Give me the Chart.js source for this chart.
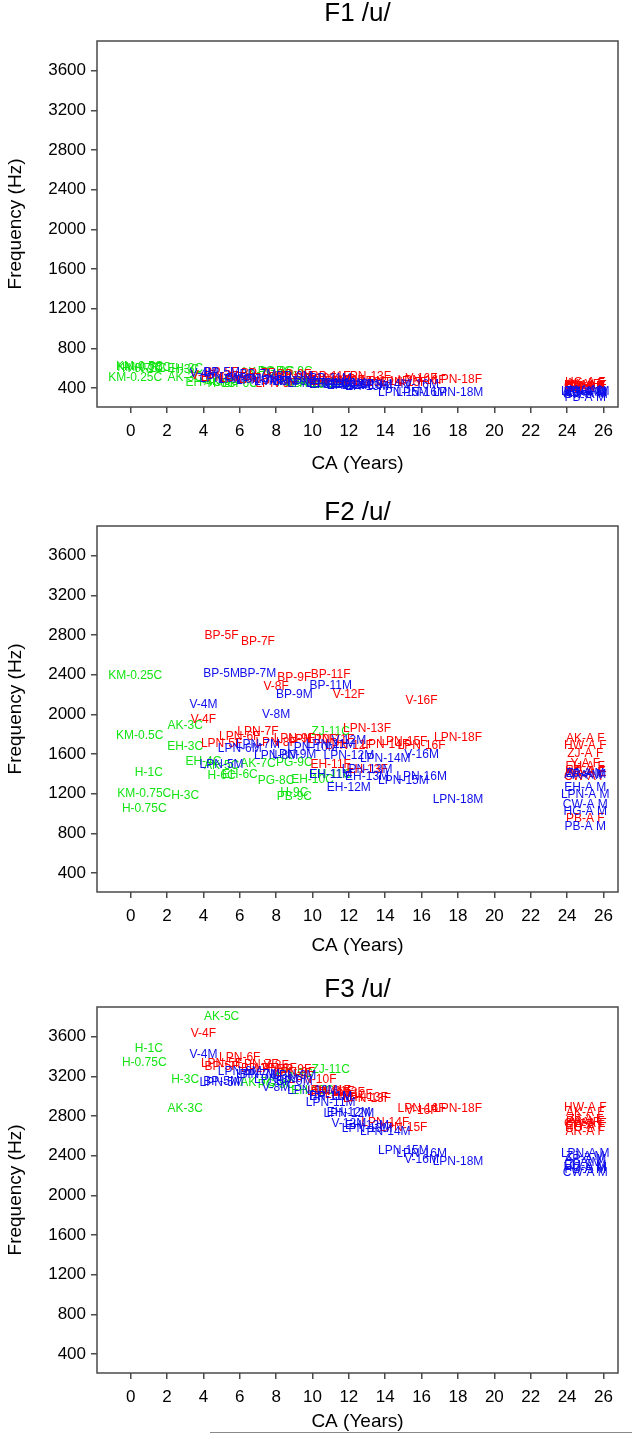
<!DOCTYPE html>
<html>
<head>
<meta charset="utf-8">
<script src="https://cdn.jsdelivr.net/npm/chart.js@4.4.0/dist/chart.umd.min.js"></script>
<style>
  html, body { margin: 0; padding: 0; background: #fff; }
  body { width: 632px; height: 1439px; position: relative; overflow: hidden; }
  .panel { position: absolute; left: 0; width: 632px; }
  .panel canvas { display: block; }
  #cutLine { position: absolute; left: 210px; top: 1432px; width: 422px; height: 0; border-top: 1px solid #8a8a8a; }
</style>
</head>
<body>
<div class="panel" style="top:0px;height:483px"><canvas id="f1Chart"></canvas></div>
<div class="panel" style="top:485px;height:483px"><canvas id="f2Chart"></canvas></div>
<div class="panel" style="top:966px;height:473px"><canvas id="f3Chart"></canvas></div>
<div id="cutLine"></div>
<script>
// Axis ticks
const xTicks = [0, 2, 4, 6, 8, 10, 12, 14, 16, 18, 20, 22, 24, 26];
const yTicks = [400, 800, 1200, 1600, 2000, 2400, 2800, 3200, 3600];

// Children (green)
const childLabels = ['KM-0.25C', 'KM-0.5C', 'KM-0.75C', 'H-0.75C', 'H-1C', 'H-3C', 'AK-3C', 'EH-3C', 'EH-4C', 'AK-5C',
  'H-6C', 'EH-6C', 'AK-7C', 'PG-8C', 'PG-9C', 'H-9C', 'PB-9C', 'EH-10C', 'EH-11C', 'ZJ-11C'];
const childAge = [0.25, 0.5, 0.75, 0.75, 1, 3, 3, 3, 4, 5, 5, 6, 7, 8, 9, 9, 9, 10, 11, 11];
const childF1 = [510, 612, 605, 600, 596, 586, 510, 592, 455, 470, 450, 445, 560, 565, 570, 470, 460, 450, 440, 430];
const childF2 = [2390, 1790, 1200, 1045, 1415, 1180, 1890, 1670, 1520, 1480, 1385, 1390, 1505, 1330, 1510, 1215, 1170, 1340, 1390, 1830];
const childF3 = [null, null, null, 3340, 3480, 3165, 2875, null, null, 3800, null, null, 3140, 3120, 3230, null, null, 3060, null, 3270];

// Females (red)
const femaleLabels = ['V-4F', 'BP-5F', 'LPN-5F', 'LPN-6F', 'BP-7F', 'LPN-7F', 'V-8F', 'LPN-8F', 'BP-9F', 'LPN-9F',
  'LPN-10F', 'BP-11F', 'LPN-11F', 'EH-11F', 'V-12F', 'LPN-12F', 'LPN-13F', 'EH-13F', 'LPN-14F', 'LPN-15F',
  'V-16F', 'LPN-16F', 'LPN-18F', 'AK-A F', 'HW-A F', 'ZJ-A F', 'Y-A F', 'EH-A F', 'CW-A F', 'HG-A F', 'AR-A F', 'PB-A F'];
const femaleAge = [4, 5, 5, 6, 7, 7, 8, 8, 9, 9, 10, 11, 11, 11, 12, 12, 13, 13, 14, 15, 16, 16, 18, 25, 25, 25, 25, 25, 25, 25, 25, 25];
const femaleF1 = [530, 560, 510, 500, 550, 490, 510, 450, 540, 520, 500, 520, 490, 470, 480, 470, 515, 460, 470, 460,
  495, 480, 490, 440, 420, 410, 430, 400, 420, 460, 410, 390];
const femaleF2 = [1950, 2795, 1710, 1775, 2735, 1830, 2275, 1720, 2370, 1760, 1750, 2400, 1745, 1490, 2195, 1690, 1860, 1440, 1700, 1730,
  2135, 1690, 1770, 1760, 1690, 1600, 1505, 1470, 1370, 1420, 1410, 945];
const femaleF3 = [3630, 3300, 3330, 3390, 3280, 3320, 3310, 3280, 3270, 3240, 3170, 3040, 3050, 3060, 3040, 3020, 2980, 2990, 2735, 2685,
  2855, 2875, 2875, 2830, 2880, 2760, 2730, 2700, 2720, 2680, 2640, 2740];

// Males (blue)
const maleLabels = ['V-4M', 'BP-5M', 'LPN-5M', 'LPN-6M', 'BP-7M', 'LPN-7M', 'V-8M', 'LPN-8M', 'BP-9M', 'LPN-9M',
  'LPN-10M', 'BP-11M', 'LPN-11M', 'EH-11M', 'V-12M', 'LPN-12M', 'EH-12M', 'LPN-13M', 'EH-13M', 'LPN-14M',
  'LPN-15M', 'V-16M', 'LPN-16M', 'LPN-18M', 'LPN-A M', 'ZJ-A M', 'AR-A M', 'Y-A M', 'EH-A M', 'CW-A M', 'HG-A M', 'PB-A M'];
const maleAge = [4, 5, 5, 6, 7, 7, 8, 8, 9, 9, 10, 11, 11, 11, 12, 12, 12, 13, 13, 14, 15, 16, 16, 18, 25, 25, 25, 25, 25, 25, 25, 25];
const maleF1 = [545, 555, 500, 490, 540, 480, 470, 470, 520, 470, 450, 500, 440, 430, 440, 430, 420, 420, 410, 430,
  350, 430, 350, 350, 360, 350, 340, 370, 360, 330, 350, 300];
const maleF2 = [2095, 2410, 1495, 1650, 2410, 1700, 1995, 1585, 2195, 1595, 1660, 2290, 1700, 1390, 1740, 1580, 1260, 1440, 1370, 1550,
  1330, 1590, 1370, 1140, 1195, 1400, 1390, 1380, 1265, 1090, 1015, 870];
const maleF3 = [3420, 3145, 3140, 3250, 3220, 3220, 3085, 3170, 3150, 3210, 3060, 3000, 2940, 3000, 2725, 2825, 2830, 2675, 2700, 2645,
  2455, 2365, 2420, 2345, 2420, 2390, 2360, 2330, 2300, 2230, 2280, 2260];

const FONT = '"Liberation Sans", Arial, sans-serif';
Chart.defaults.font.family = FONT;
Chart.defaults.color = '#000';

// Build scatter points, dropping missing values
function points(labels, ages, values) {
    return labels
        .map((label, i) => ({ x: ages[i], y: values[i], label: label }))
        .filter(p => p.y !== null);
}

// Draws the speaker label text at each point position
const pointLabelPlugin = {
    id: 'pointLabels',
    afterDatasetsDraw(chart) {
        const ctx = chart.ctx;
        ctx.save();
        ctx.font = '12px ' + FONT;
        ctx.textAlign = 'center';
        ctx.textBaseline = 'middle';
        chart.data.datasets.forEach((ds, i) => {
            const meta = chart.getDatasetMeta(i);
            ctx.fillStyle = ds.borderColor;
            meta.data.forEach((pt, j) => {
                if (pt.skip) return;
                ctx.fillText(ds.data[j].label, pt.x, pt.y);
            });
        });
        ctx.restore();
    }
};

// Box around the plot area
const framePlugin = {
    id: 'frame',
    beforeDatasetsDraw(chart) {
        const { left, top, right, bottom } = chart.chartArea;
        const ctx = chart.ctx;
        ctx.save();
        ctx.strokeStyle = '#4a4a4a';
        ctx.lineWidth = 1.5;
        ctx.strokeRect(left, top, right - left, bottom - top);
        ctx.restore();
    }
};

function makeChart(canvasId, title, f, titlePad, xAxisHeight, xTitlePad) {
    const ctx = document.getElementById(canvasId).getContext('2d');
    return new Chart(ctx, {
        type: 'scatter',
        data: {
            datasets: [
                { label: 'Children', data: points(childLabels, childAge, f[0]), borderColor: 'rgb(20, 228, 20)', pointRadius: 0 },
                { label: 'Female', data: points(femaleLabels, femaleAge, f[1]), borderColor: 'rgb(255, 0, 0)', pointRadius: 0 },
                { label: 'Male', data: points(maleLabels, maleAge, f[2]), borderColor: 'rgb(15, 15, 235)', pointRadius: 0 }
            ]
        },
        options: {
            responsive: true,
            maintainAspectRatio: false,
            animation: false,
            layout: { padding: { left: 0, right: 14, top: 0, bottom: 0 } },
            plugins: {
                legend: { display: false },
                tooltip: { enabled: false },
                title: {
                    display: true,
                    text: title,
                    fullSize: false,
                    color: '#000',
                    font: { size: 26, weight: 'normal', lineHeight: 1.0 },
                    padding: { top: titlePad, bottom: 15 - titlePad }
                }
            },
            scales: {
                x: {
                    type: 'linear',
                    min: -1.85,
                    max: 26.8,
                    afterBuildTicks: s => { s.ticks = xTicks.map(v => ({ value: v })); },
                    afterFit: s => { s.height = xAxisHeight; },
                    border: { display: false },
                    grid: { drawOnChartArea: false, drawTicks: true, tickLength: 6, color: '#4a4a4a', lineWidth: 1.5 },
                    ticks: { padding: 8, maxRotation: 0, autoSkip: false, font: { size: 17 }, callback: v => v },
                    title: { display: true, text: 'CA (Years)', font: { size: 19 }, padding: { top: 0, bottom: xTitlePad } }
                },
                y: {
                    type: 'linear',
                    min: 210,
                    max: 3900,
                    afterBuildTicks: s => { s.ticks = yTicks.map(v => ({ value: v })); },
                    afterFit: s => { s.width = 97; },
                    border: { display: false },
                    grid: { drawOnChartArea: false, drawTicks: true, tickLength: 6, color: '#4a4a4a', lineWidth: 1.5 },
                    ticks: { padding: 5, font: { size: 17 }, callback: v => v },
                    title: { display: true, text: 'Frequency (Hz)', font: { size: 19 }, padding: { top: 4, bottom: 0 } }
                }
            }
        },
        plugins: [framePlugin, pointLabelPlugin]
    });
}

makeChart('f1Chart', 'F1 /u/', [childF1, femaleF1, maleF1], 1, 76, 7.6);
makeChart('f2Chart', 'F2 /u/', [childF2, femaleF2, maleF2], 15, 76, 10.5);
makeChart('f3Chart', 'F3 /u/', [childF3, femaleF3, maleF3], 11, 66, 5.6);
</script>
</body>
</html>
